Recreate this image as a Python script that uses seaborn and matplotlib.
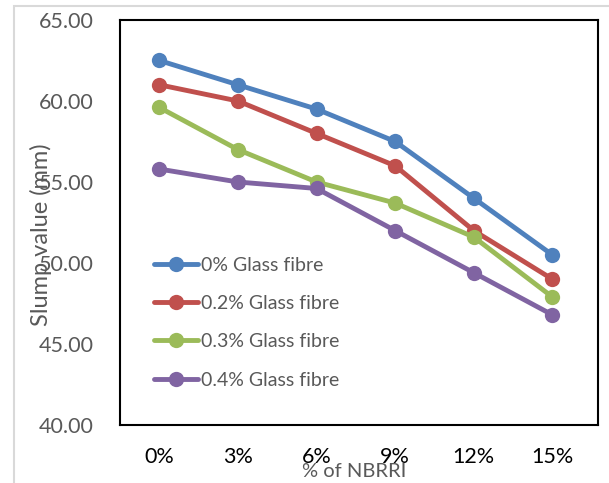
import matplotlib
matplotlib.use("Agg")
import pandas as pd
import matplotlib.pyplot as plt
import seaborn as sns
from matplotlib.patches import Rectangle

# data
nbrri = ["0%", "3%", "6%", "9%", "12%", "15%"]
glass_0 = [62.5, 61.0, 59.5, 57.5, 54.0, 50.5]
glass_02 = [61.0, 60.0, 58.0, 56.0, 52.0, 49.0]
glass_03 = [59.6, 57.0, 55.0, 53.7, 51.6, 47.9]
glass_04 = [55.8, 55.0, 54.6, 52.0, 49.4, 46.8]
series_names = ["0% Glass fibre", "0.2% Glass fibre", "0.3% Glass fibre", "0.4% Glass fibre"]

rows = []
for name, vals in zip(series_names, [glass_0, glass_02, glass_03, glass_04]):
    for i, v in enumerate(vals):
        rows.append({"pos": i, "slump": v, "series": name})
df = pd.DataFrame(rows)

sns.set_style("white")
plt.rcParams["font.family"] = ["Lato", "DejaVu Sans"]

fig = plt.figure(figsize=(6.09, 4.83), dpi=100)
ax = fig.add_axes([120 / 609, 1 - 425 / 483, 478 / 609, 405 / 483])

# light grey outer chart border
fig.patches.append(Rectangle((14 / 609, -0.1), 1.2, 1 - 6 / 483 + 0.1,
                             transform=fig.transFigure, fill=False,
                             edgecolor="#D9D9D9", linewidth=1.5, zorder=0))

palette = ["#4F81BD", "#C0504D", "#9BBB59", "#8064A2"]
sns.lineplot(data=df, x="pos", y="slump", hue="series", palette=palette,
             marker="o", markersize=11, markeredgewidth=0, linewidth=3.5,
             ax=ax)

ax.set_xlim(-0.5, 5.58)
ax.set_ylim(40, 65)
ax.set_yticks([40, 45, 50, 55, 60, 65])
ax.set_yticklabels([f"{t:.2f}" for t in [40, 45, 50, 55, 60, 65]])
ax.set_xticks(range(len(nbrri)))
ax.set_xticklabels(nbrri)
ax.tick_params(axis="both", length=0, labelsize=15.5, colors="#595959")
ax.tick_params(axis="x", pad=16, colors="black")
ax.tick_params(axis="y", pad=19)

for s in ax.spines.values():
    s.set_color("black")
    s.set_linewidth(1.5)

ax.set_xlabel("% of NBRRI", fontsize=14.5, color="#595959")
ax.xaxis.set_label_coords(0.49, -0.095)
ax.set_ylabel("Slump value (mm)", fontsize=17, color="#595959")
ax.yaxis.set_label_coords(-0.142, 0.47)

ax.legend(loc="upper left", bbox_to_anchor=(0.05, 0.44), frameon=False,
          fontsize=14, labelspacing=1.1, handlelength=2.3, handletextpad=0.15,
          borderpad=0, labelcolor="#595959")

fig.savefig("out.png", dpi=100)
